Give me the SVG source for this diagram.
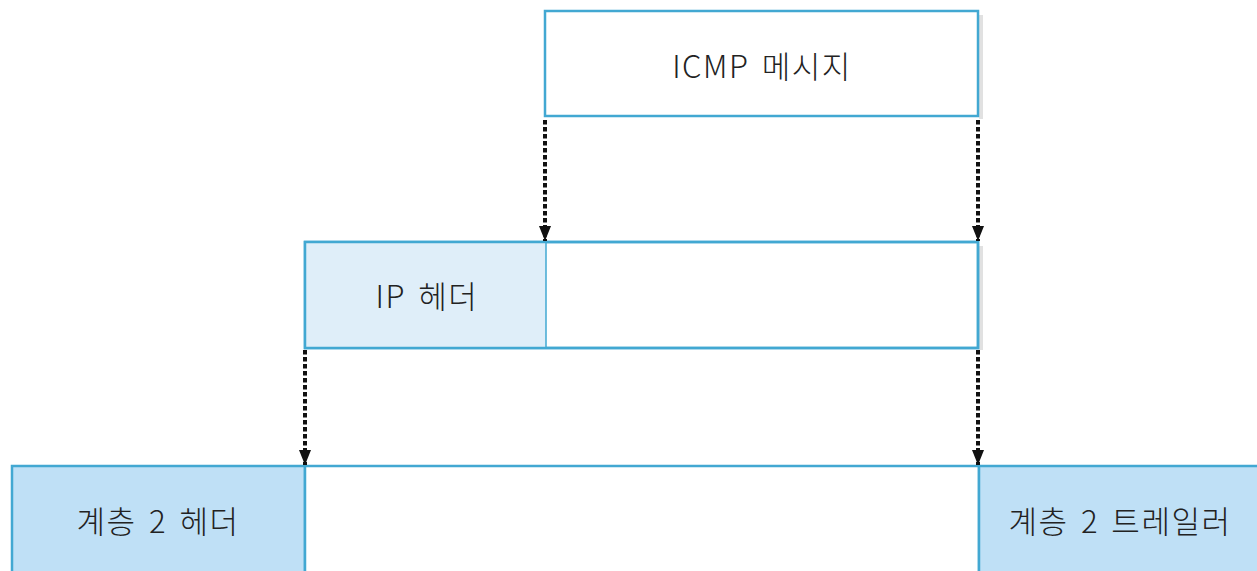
<svg xmlns="http://www.w3.org/2000/svg" width="1257" height="571" viewBox="0 0 1257 571">
<style>
.box{stroke:#42a8d2;stroke-width:2.5}
.lbl{font-family:"Noto Sans CJK KR","Noto Sans",sans-serif;font-size:31px;font-weight:300;letter-spacing:1.5px;word-spacing:4px;fill:#222;text-anchor:middle;dominant-baseline:central}
.con{stroke:#111;stroke-width:4;stroke-dasharray:4.5 2.5;fill:none}
.sh{fill:#d4d4d4;opacity:0.7}
</style>
<defs>
<marker id="ah" viewBox="0 0 10 10" refX="10" refY="5" markerWidth="15" markerHeight="12" markerUnits="userSpaceOnUse" orient="auto" preserveAspectRatio="none">
<path d="M0,0 L10,5 L0,10 Z" fill="#111"/>
</marker>
</defs>
<rect width="1257" height="571" fill="#fff"/>
<g id="icmp">
<rect class="sh" x="979" y="15" width="4" height="104"/>
<rect class="box" x="545" y="11" width="433" height="105" fill="#fff"/>
<text class="lbl" x="762" y="64">ICMP 메시지</text>
</g>
<g id="ip">
<rect class="sh" x="979" y="246" width="4" height="104"/>
<rect class="box" x="305" y="242" width="673" height="106" fill="#fff"/>
<rect x="305" y="242" width="241" height="106" fill="#dfeef9" stroke="none"/>
<rect class="box" x="305" y="242" width="673" height="106" fill="none"/>
<line x1="546" y1="242" x2="546" y2="348" stroke="#42a8d2" stroke-width="1.5"/>
<text class="lbl" x="427" y="294">IP 헤더</text>
</g>
<g id="l2header">
<rect class="box" x="12" y="466" width="293" height="110" fill="#bfe0f6"/>
<text class="lbl" x="158" y="519">계층 2 헤더</text>
</g>
<g id="l2payload">
<rect class="box" x="305" y="466" width="674" height="110" fill="#fff"/>
</g>
<g id="l2trailer">
<rect class="box" x="979" y="466" width="290" height="110" fill="#bfe0f6"/>
<text class="lbl" x="1120" y="519">계층 2 트레일러</text>
</g>
<g id="connectors">
<line class="con" x1="545" y1="120" x2="545" y2="241" marker-end="url(#ah)"/>
<line class="con" x1="978" y1="120" x2="978" y2="241" marker-end="url(#ah)"/>
<line class="con" x1="305" y1="350" x2="305" y2="465" marker-end="url(#ah)"/>
<line class="con" x1="978" y1="350" x2="978" y2="465" marker-end="url(#ah)"/>
</g>
</svg>
